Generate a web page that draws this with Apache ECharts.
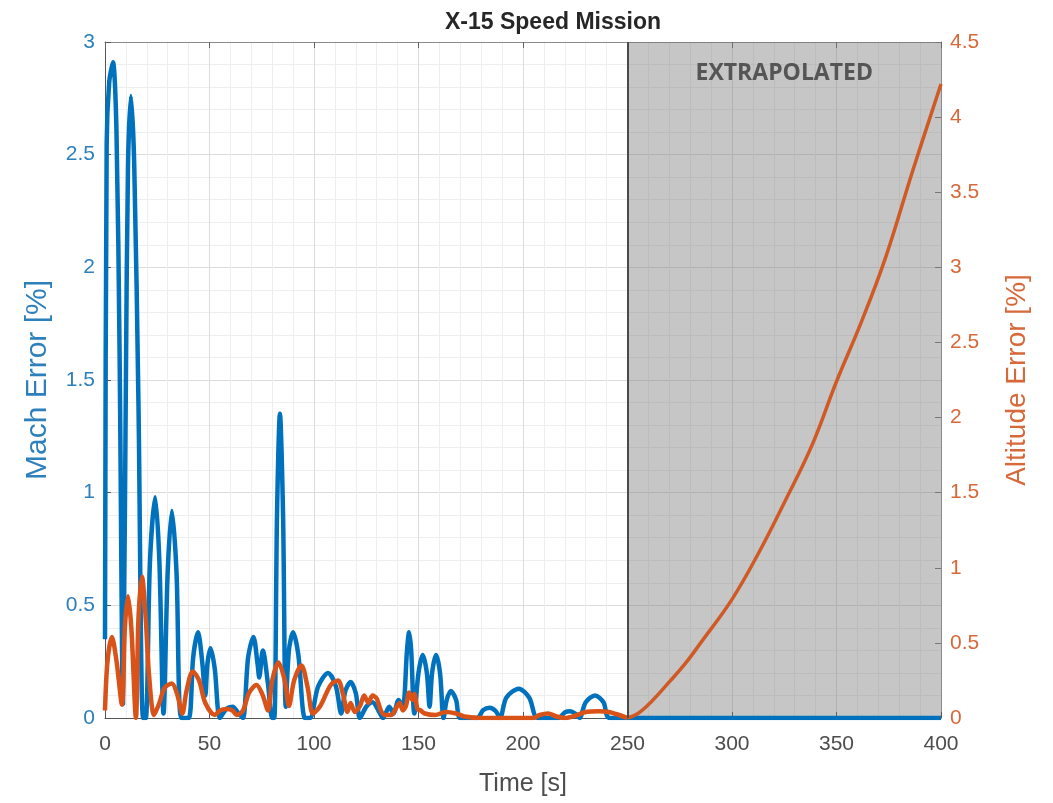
<!DOCTYPE html>
<html>
<head>
<meta charset="utf-8">
<title>X-15 Speed Mission</title>
<script src="https://cdn.jsdelivr.net/npm/echarts@6/dist/echarts.min.js"></script>
<style>
  html, body { margin: 0; padding: 0; background: #ffffff; }
  #chart { width: 1053px; height: 803px; }
</style>
</head>
<body>
<div id="chart"></div>
<script>
// Mach error [%] (left axis) over mission time [s]
const machTime = [
  0, 0.8, 2, 3.8, 5.5, 7, 8.6, 10, 11, 12.4, 14, 16, 18.2, 19.5, 21.5, 24, 26, 28, 30, 32,
  34.2, 36.5, 40, 42.2, 44.5, 46.5, 48, 49, 50.5, 52.5, 55, 58, 61, 64, 66, 68.5, 71, 73, 73.8, 75.5,
  78, 80, 81, 82.3, 83.7, 85.2, 86.5, 88, 90, 92.5, 95.7, 98, 102, 106.7, 110.5, 113, 115, 117.5, 120, 122,
  125, 128, 131, 133, 136, 138, 140.5, 142.5, 144.5, 145.5, 146.5, 148, 150, 152, 154, 155.3, 156.5, 158.4, 160.3, 162,
  163.5, 165.5, 168, 170, 178, 181, 184, 187, 189, 192, 198, 203, 207, 217, 220, 222.5, 225, 227, 230, 234.5,
  238.5, 241.6, 400
];
const machError = [
  0.35, 2.55, 2.82, 2.91, 2.6, 1.6, 0.06, 1.5, 2.45, 2.76, 2.45, 1.4, 0, 0, 0.69, 0.98, 0.7, 0.02, 0.65, 0.92,
  0.65, 0, 0, 0.27, 0.38, 0.25, 0.1, 0.24, 0.31, 0.22, 0, 0.04, 0.05, 0.02, 0, 0.27, 0.36, 0.24, 0.18, 0.3,
  0.15, 0, 0, 0.9, 1.35, 0.9, 0.05, 0.3, 0.38, 0.28, 0, 0, 0.14, 0.2, 0.14, 0.02, 0.12, 0.16, 0.11, 0,
  0.05, 0.07, 0.03, 0, 0.05, 0.02, 0.08, 0.05, 0.3, 0.38, 0.3, 0.02, 0.2, 0.28, 0.2, 0.05, 0.2, 0.28, 0.2, 0,
  0.08, 0.12, 0.08, 0, 0, 0.035, 0.045, 0.03, 0, 0.09, 0.13, 0.09, 0, 0, 0.025, 0.03, 0.02, 0, 0.07, 0.1,
  0.07, 0, 0
];

// Altitude error [%] (right axis), flown part of the mission
const altTime = [
  0, 1.2, 3.3, 5.5, 8.1, 9.5, 11, 12.6, 14.8, 16, 17.7, 19.5, 21, 23.5, 26, 28.5, 32, 34.5, 37, 39,
  42, 45, 48, 52.6, 55, 58, 61, 63, 66, 69, 72.5, 75.5, 78, 80, 83, 86, 88, 90.5, 94, 97,
  99.5, 103, 108, 111.5, 114, 116, 117.5, 119.5, 122, 124, 126, 128, 130, 132, 134, 137, 139, 141, 142.5, 144,
  145.5, 147, 148, 149.5, 151, 153, 158, 163, 168, 172, 180, 205, 208, 212, 216, 220, 226, 230, 236, 241,
  246, 250
];
const altError = [
  0.05, 0.38, 0.54, 0.38, 0.09, 0.6, 0.81, 0.6, 0, 0.66, 0.94, 0.66, 0.3, 0.02, 0.1, 0.2, 0.23, 0.16, 0.03, 0.18,
  0.31, 0.25, 0.1, 0.02, 0.05, 0.06, 0.05, 0.02, 0.05, 0.17, 0.22, 0.15, 0.05, 0.25, 0.37, 0.25, 0.08, 0.25, 0.35, 0.2,
  0.03, 0.08, 0.22, 0.25, 0.15, 0.04, 0.1, 0.04, 0.08, 0.15, 0.1, 0.15, 0.13, 0.05, 0.02, 0.02, 0.06, 0.1, 0.05, 0.08,
  0.17, 0.12, 0.16, 0.06, 0.05, 0.03, 0.02, 0.04, 0.03, 0.01, 0, 0, 0.02, 0.03, 0.01, 0, 0.02, 0.04, 0.045, 0.04,
  0.02, 0
];

// Altitude error [%] (right axis), extrapolated beyond the flown data
const extrapTime = [250, 255, 261.5, 270, 277.5, 285, 300, 312.8, 325.6, 338.4, 350, 362, 373.6, 386.4, 400];
const extrapError = [0, 0.03, 0.11, 0.24, 0.36, 0.5, 0.79, 1.1, 1.45, 1.82, 2.24, 2.64, 3.07, 3.64, 4.22];

// Shaded extrapolation window [s]
const extrapWindow = [250, 400];

const BLUE = '#0072BD';
const ORANGE = '#D95319';
const FONT = 'Liberation Sans';

const pairs = (xs, ys) => xs.map((x, i) => [x, ys[i]]);

const chart = echarts.init(document.getElementById('chart'), null, { renderer: 'canvas' });

const axisLineStyle = { color: '#555555', width: 1 };

chart.setOption({
  backgroundColor: '#ffffff',
  animation: false,
  title: {
    text: 'X-15 Speed Mission',
    left: 440,
    top: 6,
    textStyle: { fontFamily: FONT, fontWeight: 'bold', fontSize: 23, color: '#262626' }
  },
  grid: { left: 105, right: 112, top: 42, bottom: 85, containLabel: false, outerBoundsMode: 'none' },
  xAxis: [
    {
      type: 'value', min: 0, max: 400, interval: 50, position: 'bottom',
      name: 'Time [s]', nameLocation: 'middle', nameGap: 54,
      nameTextStyle: { fontFamily: FONT, fontSize: 25, color: '#4d4d4d' },
      axisLine: { show: true, onZero: false, lineStyle: axisLineStyle },
      axisTick: { show: true, inside: true, length: 6, lineStyle: { color: '#555555' } },
      axisLabel: { fontFamily: FONT, fontSize: 21, color: '#4d4d4d', margin: 16 },
      splitLine: { show: true, lineStyle: { color: '#dcdcdc', width: 1 } },
      minorTick: { show: false, splitNumber: 5 },
      minorSplitLine: { show: true, lineStyle: { color: '#eeeeee', width: 1 } }
    },
    {
      type: 'value', min: 0, max: 400, interval: 50, position: 'top',
      axisLine: { show: true, onZero: false, lineStyle: { color: '#8a8a8a', width: 1 } },
      axisTick: { show: true, inside: true, length: 6, lineStyle: { color: '#666666' } },
      axisLabel: { show: false },
      splitLine: { show: false }
    }
  ],
  yAxis: [
    {
      type: 'value', min: 0, max: 3, interval: 0.5, position: 'left',
      name: 'Mach Error [%]', nameLocation: 'middle', nameGap: 52, nameRotate: 90,
      nameTextStyle: { fontFamily: FONT, fontSize: 30, color: '#2d80bb' },
      axisLine: { show: true, onZero: false, lineStyle: axisLineStyle },
      axisTick: { show: true, inside: true, length: 6, lineStyle: { color: '#555555' } },
      axisLabel: { fontFamily: FONT, fontSize: 21, color: '#2d80bb', margin: 10 },
      splitLine: { show: true, lineStyle: { color: '#dcdcdc', width: 1 } },
      minorTick: { show: false, splitNumber: 5 },
      minorSplitLine: { show: true, lineStyle: { color: '#eeeeee', width: 1 } }
    },
    {
      type: 'value', min: 0, max: 4.5, interval: 0.5, position: 'right',
      name: 'Altitude Error [%]', nameLocation: 'middle', nameGap: 62, nameRotate: 90,
      nameTextStyle: { fontFamily: FONT, fontSize: 28, color: '#d6683a' },
      axisLine: { show: true, onZero: false, lineStyle: { color: '#8a8a8a', width: 1 } },
      axisTick: { show: true, inside: true, length: 6, lineStyle: { color: '#777777' } },
      axisLabel: { fontFamily: FONT, fontSize: 21, color: '#d6683a', margin: 9 },
      splitLine: { show: false }
    }
  ],
  series: [
    {
      name: 'Mach Error',
      type: 'line',
      xAxisIndex: 0, yAxisIndex: 0,
      data: pairs(machTime, machError),
      showSymbol: false,
      smooth: 0.3,
      lineStyle: { color: BLUE, width: 4.5 },
      itemStyle: { color: BLUE },
      z: 3,
      markArea: {
        silent: true,
        itemStyle: { color: 'rgba(120,120,120,0.42)' },
        label: {
          show: true, position: 'insideTop', distance: 20,
          fontFamily: 'Open Sans', fontWeight: 'bold', fontSize: 23, color: '#555555'
        },
        data: [[{ xAxis: extrapWindow[0], name: 'EXTRAPOLATED' }, { xAxis: extrapWindow[1] }]]
      },
      markLine: {
        silent: true,
        symbol: ['none', 'none'],
        label: { show: false },
        lineStyle: { color: '#4a4a4a', width: 2, type: 'solid' },
        data: [{ xAxis: extrapWindow[0] }]
      }
    },
    {
      name: 'Altitude Error',
      type: 'line',
      xAxisIndex: 0, yAxisIndex: 1,
      data: pairs(altTime, altError),
      showSymbol: false,
      smooth: 0.3,
      lineStyle: { color: ORANGE, width: 4.5 },
      itemStyle: { color: ORANGE },
      z: 4
    },
    {
      name: 'Altitude Error (extrapolated)',
      type: 'line',
      xAxisIndex: 0, yAxisIndex: 1,
      data: pairs(extrapTime, extrapError),
      showSymbol: false,
      smooth: 0.4,
      lineStyle: { color: '#cf5a26', width: 3.5 },
      itemStyle: { color: ORANGE },
      z: 4
    }
  ]
});
</script>
</body>
</html>
